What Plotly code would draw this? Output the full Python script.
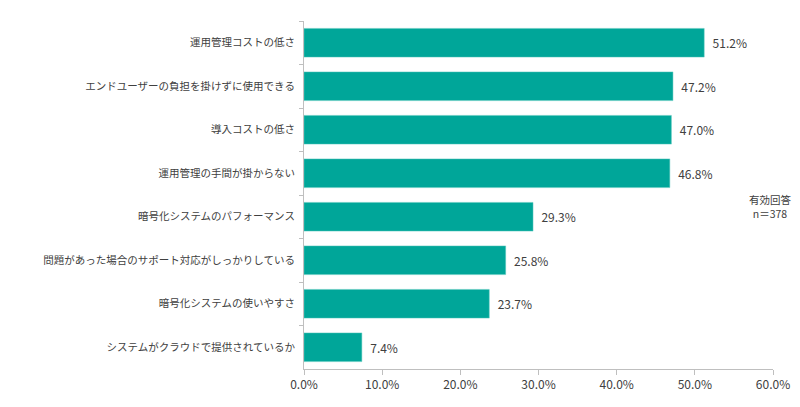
import plotly.graph_objects as go

# 回答項目（上から順）
categories = [
    "運用管理コストの低さ",
    "エンドユーザーの負担を掛けずに使用できる",
    "導入コストの低さ",
    "運用管理の手間が掛からない",
    "暗号化システムのパフォーマンス",
    "問題があった場合のサポート対応がしっかりしている",
    "暗号化システムの使いやすさ",
    "システムがクラウドで提供されているか",
]
values = [51.2, 47.2, 47.0, 46.8, 29.3, 25.8, 23.7, 7.4]
tick_vals = [0, 10, 20, 30, 40, 50, 60]
tick_text = ["0.0%", "10.0%", "20.0%", "30.0%", "40.0%", "50.0%", "60.0%"]
note = "有効回答<br>n＝378"

font_jp = "Noto Sans CJK JP"
teal = "#00a699"
grey_txt = "#404040"
axis_col = "#bfbfbf"

fig = go.Figure()
fig.add_trace(go.Bar(
    x=values,
    y=categories,
    orientation="h",
    marker=dict(color=teal, line=dict(color="#5cc9bf", width=0.5)),
    text=["  %.1f%%" % v for v in values],
    textposition="outside",
    textfont=dict(family=font_jp, size=12, color=grey_txt),
    cliponaxis=False,
    showlegend=False,
))

# page body has an 8px margin, so the figure is 8px smaller
fig.update_layout(
    width=792, height=399,
    margin=dict(l=296, r=27, t=13, b=38),
    paper_bgcolor="white", plot_bgcolor="white",
    bargap=0.34,
    font=dict(family=font_jp, size=12, color=grey_txt),
)

fig.update_xaxes(
    range=[0, 60],
    tickvals=tick_vals, ticktext=tick_text,
    showgrid=False, zeroline=False,
    showline=True, linecolor=axis_col, linewidth=1,
    ticks="outside", ticklen=5, tickcolor=axis_col,
    tickfont=dict(family=font_jp, size=12, color=grey_txt),
    automargin=False,
)
fig.update_yaxes(
    autorange="reversed",
    showgrid=False, zeroline=False,
    showline=True, linecolor=axis_col, linewidth=1,
    ticks="outside", ticklen=4, tickcolor=axis_col,
    tickson="boundaries",
    ticklabelstandoff=6,
    tickfont=dict(family=font_jp, size=10.5, color=grey_txt),
    automargin=False,
)

fig.add_annotation(
    x=0.995, y=0.466, xref="paper", yref="paper",
    text=note, showarrow=False,
    xanchor="center", yanchor="middle",
    font=dict(family=font_jp, size=10.5, color=grey_txt),
)

fig.write_html("out.html")
